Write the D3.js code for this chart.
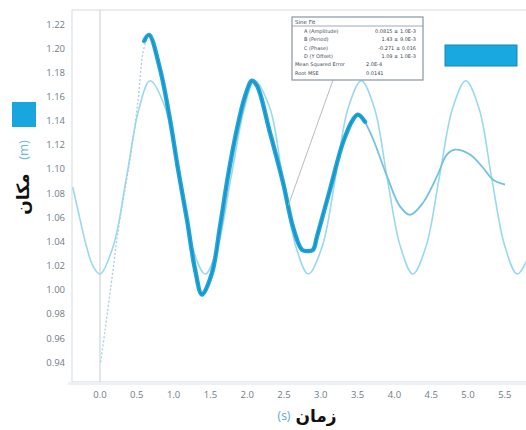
<!DOCTYPE html>
<html>
<head>
<meta charset="utf-8">
<script src="https://cdn.jsdelivr.net/npm/d3@7"></script>
<style>
  html, body { margin: 0; padding: 0; background: #fff; }
  svg { display: block; }
</style>
</head>
<body>
<svg id="chart" width="526" height="430"></svg>
<script>
// tick labels
const X_TICKS = [0, 0.5, 1.0, 1.5, 2.0, 2.5, 3.0, 3.5, 4.0, 4.5, 5.0, 5.5];
const Y_TICKS = [0.94, 0.96, 0.98, 1.00, 1.02, 1.04, 1.06, 1.08, 1.10, 1.12, 1.14, 1.16, 1.18, 1.20, 1.22];

// sine fit
const FIT_T = [-0.37, -0.27, -0.18, -0.09, 0.00, 0.18, 0.36, 0.53, 0.68, 0.89, 1.07, 1.25, 1.43, 1.60, 1.78, 1.96, 2.10, 2.31, 2.48, 2.66, 2.83, 3.02, 3.20, 3.37, 3.55, 3.73, 3.90, 4.08, 4.25, 4.43, 4.61, 4.79, 4.97, 5.15, 5.32, 5.50, 5.67, 5.84];
const FIT_V = [1.085, 1.058, 1.035, 1.019, 1.013, 1.036, 1.093, 1.150, 1.173, 1.150, 1.093, 1.036, 1.013, 1.036, 1.093, 1.150, 1.173, 1.150, 1.093, 1.036, 1.013, 1.036, 1.093, 1.150, 1.173, 1.150, 1.093, 1.036, 1.013, 1.036, 1.093, 1.150, 1.173, 1.150, 1.093, 1.036, 1.013, 1.030];

// selected measurement (thick)
const DATA_T = [0.60, 0.666, 0.815, 0.951, 1.060, 1.182, 1.291, 1.386, 1.522, 1.630, 1.739, 1.861, 1.970, 2.065, 2.133, 2.310, 2.486, 2.622, 2.745, 2.826, 2.894, 2.948, 3.125, 3.302, 3.438, 3.505, 3.601];
const DATA_V = [1.206, 1.211, 1.183, 1.141, 1.100, 1.058, 1.017, 0.996, 1.014, 1.052, 1.094, 1.133, 1.160, 1.173, 1.169, 1.130, 1.089, 1.052, 1.033, 1.032, 1.033, 1.044, 1.083, 1.122, 1.141, 1.145, 1.139];

// rest of the measurement (thin)
const REST_T = [3.601, 3.709, 3.899, 4.076, 4.212, 4.389, 4.579, 4.715, 4.823, 5.027, 5.204, 5.340, 5.503];
const REST_V = [1.139, 1.125, 1.094, 1.069, 1.062, 1.072, 1.094, 1.112, 1.116, 1.112, 1.101, 1.091, 1.087];

// dashed start-up segment
const DASH_T = [0.01, 0.07, 0.16, 0.24, 0.34, 0.43, 0.52, 0.58, 0.64];
const DASH_V = [0.940, 0.967, 1.008, 1.046, 1.083, 1.116, 1.158, 1.195, 1.209];

// fit box rows
const FIT_LABELS = ["A (Amplitude)", "B (Period)", "C (Phase)", "D (Y Offset)", "Mean Squared Error", "Root MSE"];
const FIT_VALUES = ["0.0815 ± 1.0E-3", "1.43 ± 9.0E-3", "-0.271 ± 0.016", "1.09 ± 1.0E-3", "2.0E-4", "0.0141"];

const svg = d3.select("#chart");
const plotL = 72, plotR = 530, plotT = 10, plotB = 382;

const x = d3.scaleLinear().domain([-0.38, 5.842]).range([plotL, plotR]);
const y = d3.scaleLinear().domain([0.9236, 1.2316]).range([plotB, plotT]);

// frame
svg.append("rect").attr("x", plotL).attr("y", plotT).attr("width", plotR - plotL).attr("height", plotB - plotT)
  .attr("fill", "#fff").attr("stroke", "#d4dbe0").attr("stroke-width", 1);
svg.append("rect").attr("x", plotL - 4).attr("y", plotB).attr("width", plotR - plotL + 4).attr("height", 3)
  .attr("fill", "#eef1f3");

// t = 0 line
svg.append("line").attr("x1", x(0)).attr("x2", x(0)).attr("y1", plotT).attr("y2", plotB)
  .attr("stroke", "#c4ccd2").attr("stroke-width", 1);

// axes labels
svg.append("g").selectAll("text").data(Y_TICKS).join("text")
  .attr("x", 65).attr("y", d => y(d) + 3.5)
  .attr("text-anchor", "end")
  .attr("font-family", "Open Sans, sans-serif").attr("font-size", 9.5)
  .attr("fill", "#6f7c88")
  .text(d => d.toFixed(2));

svg.append("g").selectAll("text").data(X_TICKS).join("text")
  .attr("x", d => x(d)).attr("y", 398)
  .attr("text-anchor", "middle")
  .attr("font-family", "Open Sans, sans-serif").attr("font-size", 9.5)
  .attr("fill", "#6f7c88")
  .text(d => d.toFixed(1));

const toPts = (ts, vs) => ts.map((t, i) => [t, vs[i]]);
const line = d3.line().x(d => x(d[0])).y(d => y(d[1])).curve(d3.curveCatmullRom.alpha(0.5));

// fit curve
svg.append("path").attr("d", line(toPts(FIT_T, FIT_V)))
  .attr("fill", "none").attr("stroke", "#9ad8ee").attr("stroke-width", 1.6);

// dashed start
svg.append("path").attr("d", line(toPts(DASH_T, DASH_V)))
  .attr("fill", "none").attr("stroke", "#a6cfe0").attr("stroke-width", 1.3)
  .attr("stroke-dasharray", "2,2");

// remaining data
svg.append("path").attr("d", line(toPts(REST_T, REST_V)))
  .attr("fill", "none").attr("stroke", "#72c2df").attr("stroke-width", 1.8);

// selected data
svg.append("path").attr("d", line(toPts(DATA_T, DATA_V)))
  .attr("fill", "none").attr("stroke", "#22a6da").attr("stroke-width", 4.4)
  .attr("stroke-linejoin", "round").attr("stroke-linecap", "round");
svg.append("path").attr("d", line(toPts(DATA_T, DATA_V)))
  .attr("fill", "none").attr("stroke", "#1890c4").attr("stroke-width", 1.2);

// fit box
const bx = 292, by = 17, bw = 131, bh = 63;
svg.append("line").attr("x1", 333).attr("y1", by + bh).attr("x2", x(2.56)).attr("y2", y(1.07))
  .attr("stroke", "#b5bcc2").attr("stroke-width", 1);
svg.append("rect").attr("x", bx).attr("y", by).attr("width", bw).attr("height", bh)
  .attr("fill", "#fff").attr("stroke", "#8796a2").attr("stroke-width", 1.2);
svg.append("line").attr("x1", bx).attr("x2", bx + bw).attr("y1", by + 9).attr("y2", by + 9)
  .attr("stroke", "#8796a2").attr("stroke-width", 0.8);
svg.append("text").attr("x", bx + 3).attr("y", by + 7)
  .attr("font-family", "DejaVu Sans, sans-serif").attr("font-size", 5.5).attr("fill", "#3d4852")
  .text("Sine Fit");
const rows = svg.append("g");
rows.selectAll("text.lab").data(FIT_LABELS).join("text").attr("class", "lab")
  .attr("x", (d, i) => bx + (i < 4 ? 12 : 3)).attr("y", (d, i) => by + 16 + i * 8.3)
  .attr("font-family", "DejaVu Sans, sans-serif").attr("font-size", 5).attr("fill", "#3d4852")
  .text(d => d);
rows.selectAll("text.val").data(FIT_VALUES).join("text").attr("class", "val")
  .attr("x", (d, i) => i < 4 ? bx + 124 : bx + 74).attr("y", (d, i) => by + 16 + i * 8.3)
  .attr("text-anchor", (d, i) => i < 4 ? "end" : "start")
  .attr("font-family", "DejaVu Sans, sans-serif").attr("font-size", 5).attr("fill", "#3d4852")
  .text(d => d);

// legend swatch
svg.append("rect").attr("x", 445).attr("y", 45).attr("width", 72).attr("height", 21)
  .attr("fill", "#19a8e0").attr("stroke", "#1588b8").attr("stroke-width", 1);

// y title
svg.append("rect").attr("x", 12).attr("y", 102).attr("width", 24).attr("height", 25)
  .attr("fill", "#19a6df");
svg.append("text").attr("transform", "translate(28,150) rotate(-90)")
  .attr("text-anchor", "middle")
  .attr("font-family", "Open Sans, sans-serif").attr("font-size", 13).attr("fill", "#6bb8dc")
  .text("(m)");
svg.append("text").attr("transform", "translate(29,194) rotate(-90)")
  .attr("text-anchor", "middle")
  .attr("font-family", "DejaVu Sans, sans-serif").attr("font-weight", "bold").attr("font-size", 17).attr("fill", "#111")
  .text("مکان");

// x title
svg.append("text").attr("x", 284).attr("y", 420)
  .attr("text-anchor", "middle")
  .attr("font-family", "Open Sans, sans-serif").attr("font-size", 12).attr("fill", "#5aa6cf")
  .text("(s)");
svg.append("text").attr("x", 316).attr("y", 422)
  .attr("text-anchor", "middle")
  .attr("font-family", "DejaVu Sans, sans-serif").attr("font-weight", "bold").attr("font-size", 17).attr("fill", "#111")
  .text("زمان");
</script>
</body>
</html>
